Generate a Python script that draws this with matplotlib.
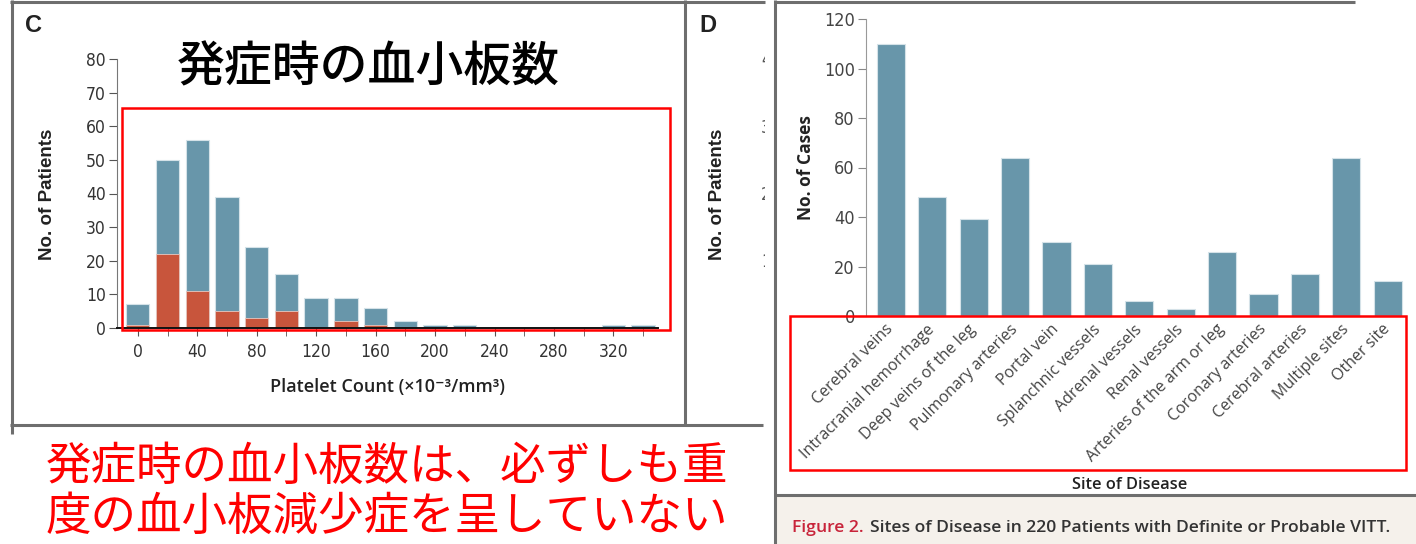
import matplotlib
matplotlib.use("Agg")
import matplotlib.pyplot as plt
from matplotlib.lines import Line2D
from matplotlib.patches import Rectangle
from matplotlib.transforms import ScaledTranslation

# panel C: platelet count at onset
platelet_bins = [0, 20, 40, 60, 80, 100, 120, 140, 160, 180, 200, 220, 240, 260, 280, 300, 320, 340]
all_patients = [7, 50, 56, 39, 24, 16, 9, 9, 6, 2, 1, 1, 0, 0, 0, 0, 1, 1]
red_patients = [1, 22, 11, 5, 3, 5, 0, 2, 1, 0, 0, 0, 0, 0, 0, 0, 0, 0]
platelet_ticks = [0, 40, 80, 120, 160, 200, 240, 280, 320]

# panel from figure 2: sites of disease
sites = ["Cerebral veins", "Intracranial hemorrhage", "Deep veins of the leg",
         "Pulmonary arteries", "Portal vein", "Splanchnic vessels", "Adrenal vessels",
         "Renal vessels", "Arteries of the arm or leg", "Coronary arteries",
         "Cerebral arteries", "Multiple sites", "Other site"]
cases = [110, 48, 39, 64, 30, 21, 6, 3, 26, 9, 17, 64, 14]

W, H = 1416, 544
BLUE = "#6896aa"
RED = "#c8553c"
GRAY = "#6e6e6e"

plt.rcParams['font.family'] = ['Open Sans', 'DejaVu Sans']

ARIAL = ['Liberation Sans', 'DejaVu Sans']
JP = ['Noto Sans CJK JP', 'DejaVu Sans']

fig = plt.figure(figsize=(W / 100, H / 100), dpi=100)


def box(x0, y0, x1, y1):
    # pixel box (top-left origin) -> figure rect
    return [x0 / W, 1 - y1 / H, (x1 - x0) / W, (y1 - y0) / H]


def txt(x, y, s, **kw):
    return fig.text(x / W, 1 - y / H, s, **kw)


def line(xs, ys, color=GRAY, lw=2.2, z=5):
    fig.add_artist(Line2D([x / W for x in xs], [1 - y / H for y in ys],
                          color=color, lw=lw, zorder=z, solid_capstyle='butt'))


def narrow(labels):
    for lab in labels:
        lab.set_family('DejaVu Sans')
        lab.set_stretch('condensed')


# ---- panel C ----
ax = fig.add_axes(box(117, 59, 658, 328))
ax.bar(platelet_bins, all_patients, width=15.7, color=BLUE, edgecolor="#d5e2e8", linewidth=0.8)
ax.bar(platelet_bins, red_patients, width=15.7, color=RED, edgecolor="#e8c8c0", linewidth=0.6)
ax.set_xlim(-14, 350)
ax.set_ylim(0, 80)
ax.set_yticks(range(0, 81, 10))
ax.set_xticks(platelet_bins, minor=True)
ax.set_xticks(platelet_ticks)
for s in ['top', 'right']:
    ax.spines[s].set_visible(False)
ax.spines['left'].set_color("#777777")
ax.spines['bottom'].set_color("#111111")
ax.spines['bottom'].set_linewidth(1.4)
ax.tick_params(axis='y', length=6, color="#555555", pad=2, labelsize=12.5, labelcolor="#333333")
ax.tick_params(axis='x', which='both', length=6, color="#555555", pad=5, labelsize=12.5, labelcolor="#333333")
narrow(ax.get_xticklabels() + ax.get_yticklabels())

txt(47, 194, "No. of Patients", family=ARIAL, fontweight='bold', fontsize=13.5, color="#222222",
    rotation=90, ha='center', va='center')
txt(388, 387, "Platelet Count (\u00d710\u207b\u00b3/mm\u00b3)", fontsize=13, fontweight='semibold',
    color="#222222", ha='center', va='center')

fig.add_artist(Rectangle((122 / W, 1 - 330 / H), 548 / W, 222 / H, transform=fig.transFigure,
                         fill=False, edgecolor="#ff0000", lw=1.8, zorder=6))

txt(33, 26, "C", fontsize=17, fontweight='bold', color="#222222", ha='center', va='center', family=ARIAL)
txt(368, 68, "発症時の血小板数", fontsize=34.5, fontweight='medium', color="#000000",
    ha='center', va='center', family=JP)
txt(387, 467, "発症時の血小板数は、必ずしも重", fontsize=32.8, color="#ff0000", ha='center', va='center', family=JP)
txt(387, 517, "度の血小板減少症を呈していない", fontsize=32.8, color="#ff0000", ha='center', va='center', family=JP)

# panel D fragment, cut by the overlapping figure
txt(708, 26, "D", fontsize=17, fontweight='bold', color="#222222", ha='center', va='center', family=ARIAL)
txt(718, 194, "No. of Patients", fontsize=13.5, fontweight='bold', color="#222222", rotation=90,
    ha='center', va='center', family=ARIAL)
for yy, s in [(60, "40"), (128, "30"), (195, "20"), (262, "10")]:
    t = txt(761, yy, s, fontsize=12, color="#555555", ha='left', va='center', zorder=1)
    narrow([t])

# borders of the left page
line([10, 765], [2, 2])
line([12, 12], [0, 434])
line([10, 763], [425, 425])
line([685, 685], [0, 425])

# ---- overlapping figure 2 ----
fig.add_artist(Rectangle((765 / W, 0), 1 - 765 / W, 1, transform=fig.transFigure,
                         facecolor="white", edgecolor="none", zorder=2))
fig.add_artist(Rectangle((776 / W, 0), 1 - 776 / W, 48 / H, transform=fig.transFigure,
                         facecolor="#f5f1eb", edgecolor="none", zorder=3))

ax2 = fig.add_axes(box(866, 19, 1410, 316))
ax2.set_zorder(4)
xs = list(range(len(sites)))
ax2.bar(xs, cases, width=0.68, color=BLUE, edgecolor="#d5e2e8", linewidth=0.8)
ax2.set_xlim(-0.604, 12.54)
ax2.set_ylim(0, 120)
ax2.set_yticks(range(0, 121, 20))
ax2.set_xticks(xs)
ax2.set_xticklabels(sites, rotation=45, ha='right', va='center', rotation_mode='anchor',
                    fontsize=11.5, color="#444444")
offset = ScaledTranslation(16 / 100, -4 / 100, fig.dpi_scale_trans)
for lab in ax2.get_xticklabels():
    lab.set_transform(lab.get_transform() + offset)
for s in ['top', 'right', 'bottom']:
    ax2.spines[s].set_visible(False)
ax2.spines['left'].set_color("#999999")
ax2.tick_params(axis='y', length=6, color="#888888", pad=2, labelsize=13, labelcolor="#444444")
ax2.tick_params(axis='x', length=0, pad=8)
narrow(ax2.get_yticklabels())
txt(806, 168, "No. of Cases", fontsize=12.5, fontweight='bold', color="#222222", rotation=90,
    ha='center', va='center', zorder=6)

fig.add_artist(Rectangle((790 / W, 1 - 470 / H), 616 / W, 154 / H, transform=fig.transFigure,
                         fill=False, edgecolor="#ff0000", lw=1.8, zorder=6))
txt(1130, 485, "Site of Disease", fontsize=11.8, fontweight='semibold', color="#222222",
    ha='center', va='center', zorder=6)

line([775, 775], [0, 544], z=6)
line([775, 1355], [2, 2], z=6)
line([775, 1416], [495, 495], z=6)

cap = txt(792, 528, "Figure 2.", fontsize=12.6, fontweight='semibold', color="#c8243a",
          ha='left', va='center', zorder=6)
fig.canvas.draw()
bb = cap.get_window_extent()
fig.text(bb.x1 / W + 6 / W, 1 - 528 / H, "Sites of Disease in 220 Patients with Definite or Probable VITT.",
         fontsize=12.6, fontweight='semibold', color="#333333", ha='left', va='center', zorder=6)

fig.savefig("out.png", dpi=100)
